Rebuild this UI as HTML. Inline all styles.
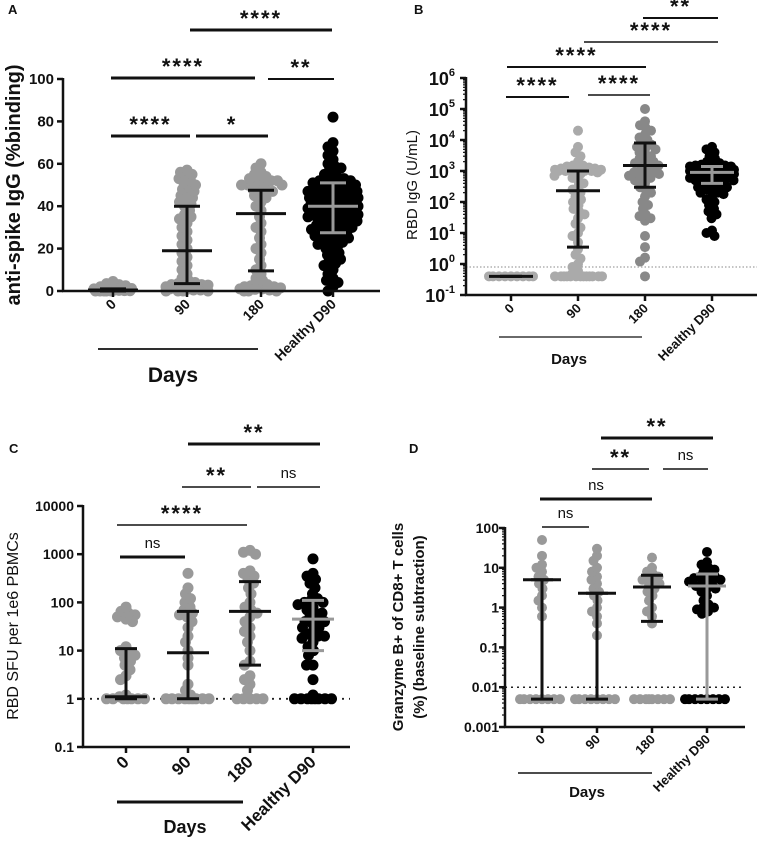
<!DOCTYPE html>
<html><head><meta charset="utf-8">
<style>
html,body{margin:0;padding:0;background:#fff;}
svg{display:block;font-family:"Liberation Sans",Arial,sans-serif;}
</style></head>
<body>
<svg id="chart" width="760" height="850" viewBox="0 0 760 850"></svg>
<script>
// ---------- DATA ----------
const groupLabels = ["0","90","180","Healthy D90"];
// Panel A: anti-spike IgG %binding
const a0 = [0,0,0,0,0,0.2,0.3,0.5,0.5,0.8,1,1,1.2,1.5,2,2.5,3,3.5,4.5,0.1,0.4,0.7,0.9,0.3];
const a90 = [0,0,0,0,0.5,0.5,1,1,1.5,1.5,2,2,2.5,3,3,3.5,4,0.8,1.8,2.8,5,6,8,10,12,14,16,18,20,22,24,26,28,30,32,34,35,36,38,40,41,42,43,44,45,46,47,48,49,50,51,52,53,54,55,56,57];
const a180 = [0,0,0,0.5,1,1,1.5,2,2,2.5,3,3,0.8,5,6,8,10,12,15,18,20,22,25,28,30,32,35,38,40,42,44,45,46,47,48,49,50,50,51,52,52,53,54,55,56,58,60,48,50,51,53];
const aH = [0,2,4,5,6,8,10,12,13,14,15,16,17,18,19,20,21,22,23,24,25,25,26,27,28,29,30,30,31,32,33,33,34,35,35,36,36,37,37,38,38,39,39,40,40,40,41,41,42,42,43,43,44,44,45,45,46,46,47,47,48,48,49,49,50,50,51,51,52,52,53,53,54,55,56,57,58,59,60,62,64,66,68,70,82,38,40,42,44,46,48,50,52,36,34,32,30,28,26,24,22,45,47,43,41,39,37,35,33,31,29,27];
const aMean = [0.5,19,36.5,40];
const aLow = [0,3.5,9.5,27.5];
const aHigh = [1,40,47.5,51];
const aTicks = [0,20,40,60,80,100];
// Panel B: RBD IgG U/mL (log)
const b0 = [0.4,0.4,0.4,0.4,0.4,0.4,0.4,0.4,0.4];
const b90 = [0.4,0.4,0.4,0.4,0.4,0.4,0.4,0.4,0.4,0.4,0.4,0.4,0.4,0.5,0.6,0.8,1,1.5,2,3,5,8,10,15,20,30,40,50,60,80,100,120,150,200,250,300,400,500,600,700,800,900,1000,1000,1000,1100,1100,1200,1200,1300,1400,1500,1500,2000,3000,4000,6000,20000,1000,1000,900,1100];
const b180 = [0.4,1.2,1.6,3.5,8,25,30,35,40,60,80,100,150,200,250,300,400,500,600,700,800,900,1000,1200,1500,1800,2000,2500,3000,4000,5000,6000,7000,8000,10000,12000,15000,20000,25000,30000,40000,100000,1500,2000,3000,800,1000,5000,600];
const bH = [8,10,12,30,40,50,60,80,100,120,150,180,200,250,300,350,400,450,500,550,600,650,700,750,800,850,900,950,1000,1050,1100,1150,1200,1300,1400,1500,1600,1800,2000,2500,3000,4000,5000,6000,700,800,900,1000,1100,1200,1300,500,600,400,1000,900,1100,800,1200,1400,1000,700,1300,1500,1600,1000,300,250,200];
const bMean = [0.4,230,1500,900];
const bLow = [0.4,3.5,300,400];
const bHigh = [0.4,1000,8000,1400];
const bExp = [-1,0,1,2,3,4,5,6];
// Panel C: RBD SFU per 1e6 PBMCs (log)
const c0 = [1,1,1,1,1,1,1,1.1,1.2,2.5,3,4,5,6,7,8,9,10,12,40,45,50,55,60,65,80];
const c90 = [1,1,1,1,1,1,1,1,1,1.2,1.5,2,5,7,10,15,20,30,40,50,55,60,70,80,100,120,150,200,400];
const c180 = [1,1,1,1,1,1.5,2,2.5,3,5,6,10,15,20,25,30,40,50,60,70,80,100,150,200,250,300,350,400,450,1000,1100,1200];
const cH = [1,1,1,1,1,1,1,1,1.2,2.5,5,5,8,10,12,15,18,20,22,25,30,35,40,45,50,60,70,80,90,100,110,120,150,200,250,300,350,400,800,30,40,60,100,20];
const cMean = [1.1,9,65,45];
const cLow = [1,1,5,10];
const cHigh = [11,65,270,110];
const cTicks = [0.1,1,10,100,1000,10000];
// Panel D: Granzyme B+ of CD8+ (log)
const d0 = [0.005,0.005,0.005,0.005,0.005,0.005,0.005,0.005,0.6,1,1.5,2,3,4,5,6,8,10,12,20,50];
const d90 = [0.005,0.005,0.005,0.005,0.005,0.005,0.005,0.005,0.2,0.4,0.6,0.8,1,1.5,2,2.5,3,4,5,6,8,10,15,20,30];
const d180 = [0.005,0.005,0.005,0.005,0.005,0.005,0.005,0.005,0.4,0.6,0.8,1,1.5,2,2.5,3,3.5,4,4.5,5,5.5,6,7,8,10,18];
const dH = [0.005,0.005,0.005,0.005,0.005,0.005,0.005,0.005,0.7,0.8,0.9,1,1.2,1.5,2,2.5,3,3.5,4,4.5,5,5.5,6,7,8,9,10,12,14,25,3,4,5,6,1];
const dMean = [5,2.3,3.3,3.5];
const dLow = [0.005,0.005,0.45,0.005];
const dHigh = [5,2.3,6.5,7];
const dTicks = [0.001,0.01,0.1,1,10,100];

// ---------- DRAWING ----------
const NS = "http://www.w3.org/2000/svg";
const svg = document.getElementById("chart");
function mk(tag, attrs, parent, text){
  const e = document.createElementNS(NS, tag);
  for (const k in attrs) e.setAttribute(k, attrs[k]);
  if (text !== undefined) e.textContent = text;
  (parent || svg).appendChild(e);
  return e;
}
function linear(d0,d1,r0,r1){ return v => r0 + (v-d0)/(d1-d0)*(r1-r0); }
function logS(d0,d1,r0,r1){ const l0=Math.log10(d0), l1=Math.log10(d1); return v => r0 + (Math.log10(v)-l0)/(l1-l0)*(r1-r0); }

function swarm(ys, minD, maxW){
  const idx = ys.map((y,i)=>i).sort((a,b)=>ys[a]-ys[b]);
  const placed = []; const offs = new Array(ys.length).fill(0);
  for (const i of idx){
    const y = ys[i];
    let best = 0, bestD = -1, done = false;
    for (let k=0;;k++){
      const o = (k%2===0?1:-1)*Math.ceil(k/2)*0.5;
      if (Math.abs(o) > maxW) break;
      let md = Infinity;
      for (const p of placed){
        const dx=p.x-o, dy=p.y-y;
        const d = Math.sqrt(dx*dx+dy*dy);
        if (d < md) md = d;
      }
      if (md >= minD){ offs[i]=o; done=true; break; }
      if (md > bestD){ bestD = md; best = o; }
    }
    if (!done) offs[i] = best;
    placed.push({x:offs[i],y:y});
  }
  return offs;
}

function panel(cfg){
  const g = mk("g", {});
  
  
  const ys = cfg.y;
  if (cfg.lod !== undefined){
    const l = mk("line",{x1:cfg.ax,x2:cfg.axEnd,y1:ys(cfg.lod),y2:ys(cfg.lod),stroke:cfg.lodColor||"#222","stroke-width":cfg.lodW||1.5,"stroke-dasharray":cfg.lodDash||"2,4"},g);
    
    
  }
  cfg.data.forEach((arr,gi)=>{
    const gx = cfg.gx[gi];
    const py = arr.map(v=>ys(v));
    const offs = swarm(py, cfg.minD, cfg.maxW[gi]);
    const gg = mk("g",{fill:cfg.colors[gi]},g);
    
    
    arr.forEach((v,i)=>{
      const c = mk("circle",{cx:gx+offs[i],cy:py[i],r:cfg.r},gg);
      
      
    });
  });
  cfg.mean.forEach((m,gi)=>{
    const gx = cfg.gx[gi];
    const col = cfg.errColors[gi];
    const eg = mk("g",{stroke:col,"stroke-width":cfg.errW||3,fill:"none"},g);
    
    
    const lo=ys(cfg.low[gi]), hi=ys(cfg.high[gi]), my=ys(m);
    mk("line",{x1:gx,x2:gx,y1:lo,y2:hi},eg);
    mk("line",{x1:gx-cfg.cap,x2:gx+cfg.cap,y1:lo,y2:lo},eg);
    mk("line",{x1:gx-cfg.cap,x2:gx+cfg.cap,y1:hi,y2:hi},eg);
    mk("line",{x1:gx-cfg.mw,x2:gx+cfg.mw,y1:my,y2:my},eg);
  });
  const ax = mk("g",{stroke:"#111","stroke-width":2.5},g);
  
  
  mk("line",{x1:cfg.ax,x2:cfg.ax,y1:cfg.yTop-1,y2:cfg.axY+1},ax);
  mk("line",{x1:cfg.ax-1,x2:cfg.axEnd,y1:cfg.axY,y2:cfg.axY},ax);
  cfg.gx.forEach(gx=>mk("line",{x1:gx,x2:gx,y1:cfg.axY,y2:cfg.axY+6},ax));
  (cfg.minor||[]).forEach(v=>mk("line",{x1:cfg.ax-3,x2:cfg.ax,y1:ys(v),y2:ys(v),"stroke-width":1.2},ax));
  cfg.ticks.forEach((t,i)=>{
    mk("line",{x1:cfg.ax-6,x2:cfg.ax,y1:ys(t),y2:ys(t)},ax);
    if (cfg.tickFmt){ cfg.tickFmt(t, ys(t), g); }
    else {
      const tx = mk("text",{x:cfg.ax-9,y:ys(t)+5,"text-anchor":"end","font-size":cfg.tfs,"font-weight":"bold",fill:"#111"},g,String(t));
      
      
    }
  });
  groupLabels.forEach((lab,gi)=>{
    const x = cfg.gx[gi]+4, y = cfg.axY+cfg.xlOff;
    const t = mk("text",{x:x,y:y,"text-anchor":"end","font-size":cfg.xfs,"font-weight":"bold",fill:"#111",transform:`rotate(-45 ${x} ${y})`},g,lab);
    
    
  });
  const dl = mk("line",{x1:cfg.days[0],x2:cfg.days[1],y1:cfg.days[2],y2:cfg.days[2],stroke:"#111","stroke-width":cfg.daysW||1.5},g);
  
  
  const dt = mk("text",{x:cfg.days[3],y:cfg.days[4],"text-anchor":"middle","font-size":cfg.dfs,"font-weight":"bold",fill:"#111"},g,"Days");
  
  
  cfg.ytitle.forEach(tt=>{
    const t = mk("text",{x:tt[1],y:tt[2],"text-anchor":"middle","font-size":tt[3],"font-weight":tt[4],fill:"#111",transform:`rotate(-90 ${tt[1]} ${tt[2]})`},g,tt[0]);
    
    
  });
  const pl = mk("text",{x:cfg.letter[1],y:cfg.letter[2],"font-size":13,"font-weight":"bold",fill:"#111"},g,cfg.letter[0]);
  
  
  cfg.sig.forEach(s=>{
    const sg = mk("g",{},g);
    
    
    mk("line",{x1:s[0],x2:s[1],y1:s[2],y2:s[2],stroke:"#111","stroke-width":s[4]},sg);
    const star = s[3].indexOf('*')>=0;
    mk("text",{x:(s[0]+s[1])/2,y:s[2]-(star?4:9),"text-anchor":"middle","font-size":star?22:15,"font-weight":star?"bold":"normal",fill:"#111","letter-spacing":star?"2":"0"},sg,s[3]);
  });
}

// Panel A
panel({name:"panel-a",y:linear(0,100,291,79),ax:63,axEnd:380,axY:291,yTop:79,
  gx:[113,187,261,333],data:[a0,a90,a180,aH],colors:["#999","#999","#999","#000"],
  r:5.5,minD:6.5,maxW:[19,21,21,25],mean:aMean,low:aLow,high:aHigh,errColors:["#111","#111","#111","#999"],cap:13,mw:25,
  ticks:aTicks,tfs:15,xfs:14,xlOff:14,
  days:[98,258,349,173,382],dfs:21,daysW:1.8,
  ytitle:[["anti-spike IgG (%binding)",20,185,20,"bold"]],letter:["A",8,14],
  sig:[[111,190,136,"****",3],[196,268,136,"*",3],[111,255,78,"****",3],[268,334,79,"**",2],[190,332,30,"****",3]]});

// Panel B
const bMinor=[]; for(let e=-1;e<6;e++){ for(let k=2;k<10;k++) bMinor.push(k*Math.pow(10,e)); }
panel({name:"panel-b",y:logS(0.1,1e6,295,78),ax:466,axEnd:757,axY:295,yTop:78,
  gx:[511,578,645,712],data:[b0,b90,b180,bH],colors:["#aaa","#aaa","#888","#000"],
  r:5,minD:6,maxW:[22,24,22,22],mean:bMean,low:bLow,high:bHigh,errColors:["#111","#111","#111","#999"],cap:11,mw:22,
  lod:0.8,lodColor:"#888",lodW:1,lodDash:"1.5,2",
  ticks:bExp.map(e=>Math.pow(10,e)),minor:bMinor,xfs:13,xlOff:14,
  tickFmt:(t,y,g)=>{const e=Math.round(Math.log10(t));
    const tx=mk("text",{x:455,y:y+7,"text-anchor":"end","font-size":18,fill:"#111","font-weight":"bold"},g);
    
    
    mk("tspan",{},tx,"10");mk("tspan",{dy:-9,"font-size":11},tx,String(e));},
  days:[499,642,337,569,364],dfs:15,daysW:1.2,
  ytitle:[["RBD IgG  (U/mL)",417,185,15,"normal"]],letter:["B",414,14],
  sig:[[506,569,97,"****",2],[588,650,95,"****",1.5],[507,646,67,"****",2],[584,718,42,"****",1.5],[643,718,18,"**",2]]});

// Panel C
panel({name:"panel-c",y:logS(0.1,10000,747,506),ax:83,axEnd:350,axY:747,yTop:506,
  gx:[126,188,250,313],data:[c0,c90,c180,cH],colors:["#999","#999","#999","#000"],
  r:5.5,minD:6.5,maxW:[20,22,22,22],mean:cMean,low:cLow,high:cHigh,errColors:["#111","#111","#111","#999"],cap:11,mw:21,
  lod:1,lodColor:"#222",lodW:1.8,lodDash:"2,5",
  ticks:cTicks,tfs:14,xfs:17,xlOff:16,
  days:[117,243,802,185,833],dfs:18,daysW:3,
  ytitle:[["RBD SFU per 1e6 PBMCs",18,626,16,"normal"]],letter:["C",9,453],
  sig:[[120,185,557,"ns",3],[117,247,525,"****",1.5],[182,251,487,"**",1.5],[257,320,487,"ns",1.5],[188,320,444,"**",3]]});

// Panel D
const dMinor=[]; for(let e=-3;e<2;e++){ for(let k=2;k<10;k++) dMinor.push(k*Math.pow(10,e)); }
panel({name:"panel-d",y:logS(0.001,100,727,528),ax:505,axEnd:745,axY:727,yTop:528,
  gx:[542,597,652,707],data:[d0,d90,d180,dH],colors:["#999","#999","#999","#000"],
  r:5,minD:6,maxW:[22,22,20,22],mean:dMean,low:dLow,high:dHigh,errColors:["#111","#111","#111","#999"],cap:11,mw:19,
  lod:0.01,lodColor:"#222",lodW:1.5,lodDash:"2,4",
  ticks:dTicks,minor:dMinor,tfs:13,xfs:13,xlOff:13,
  tickFmt:(t,y,g)=>{const tx=mk("text",{x:499,y:y+5,"text-anchor":"end","font-size":14,"font-weight":"bold",fill:"#111"},g,String(t));
    
    },
  days:[518,652,773,587,797],dfs:15,daysW:1.5,
  ytitle:[["Granzyme B+ of CD8+ T cells",403,627,15,"bold"],["(%) (baseline subtraction)",424,627,15,"bold"]],letter:["D",409,453],
  sig:[[542,589,527,"ns",1.5],[540,652,499,"ns",3],[592,649,469,"**",1.5],[663,708,469,"ns",1.5],[601,713,438,"**",3]]});
</script>
</body></html>
